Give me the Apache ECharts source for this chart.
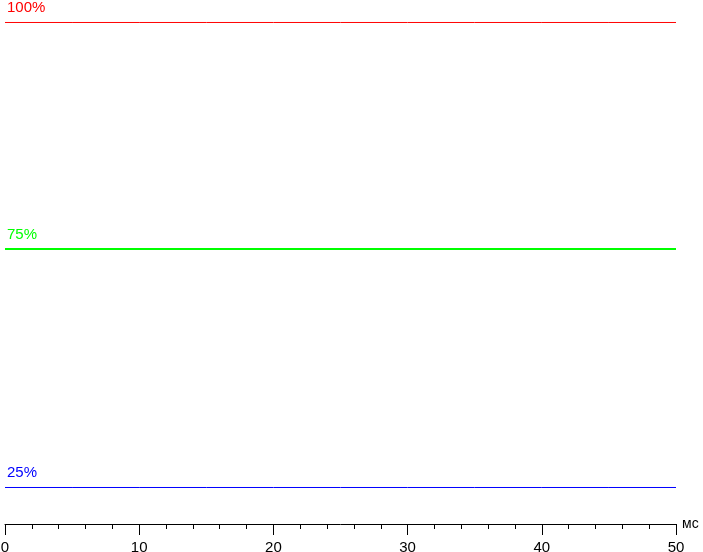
<!DOCTYPE html>
<html>
<head>
<meta charset="utf-8">
<script src="https://cdn.jsdelivr.net/npm/echarts@6/dist/echarts.min.js"></script>
<style>
html,body{margin:0;padding:0;background:#fff;}
#chart{width:703px;height:552px;}
</style>
</head>
<body>
<div id="chart"></div>
<script>
// time, ms
const times = [0, 5, 10, 15, 20, 25, 30, 35, 40, 45, 50];
// relative brightness (normalised) for each level
const level100 = [1.0, 1.0, 1.0, 1.0, 1.0, 1.0, 1.0, 1.0, 1.0, 1.0, 1.0];
const level75 = [0.5296, 0.5296, 0.5296, 0.5296, 0.5296, 0.5296, 0.5296, 0.5296, 0.5296, 0.5296, 0.5296];
const level25 = [0.0343, 0.0343, 0.0343, 0.0343, 0.0343, 0.0343, 0.0343, 0.0343, 0.0343, 0.0343, 0.0343];
const seriesNames = ['100%', '75%', '25%'];
const seriesColors = ['#ff0000', '#00ff00', '#0000ff'];
const seriesWidths = [1, 2, 1];
const xTicks = [0, 10, 20, 30, 40, 50];
const xUnit = 'мс';

const levels = [level100, level75, level25];
const chart = echarts.init(document.getElementById('chart'), null, {renderer: 'canvas'});
const font = 'Liberation Sans, Arial, sans-serif';
const narrow = 'Liberation Sans Narrow, Liberation Sans, Arial, sans-serif';

const series = levels.map((vals, i) => ({
  name: seriesNames[i],
  type: 'line',
  data: times.map((t, k) => {
    const item = {value: [t, vals[k]]};
    if (k === 0) {
      item.label = {
        show: true,
        formatter: seriesNames[i],
        position: [2, -22],
        color: seriesColors[i],
        fontFamily: font,
        fontSize: 15
      };
    }
    return item;
  }),
  symbol: 'circle',
  symbolSize: 0.01,
  showSymbol: true,
  lineStyle: {color: seriesColors[i], width: seriesWidths[i]},
  itemStyle: {color: seriesColors[i]},
  animation: false,
  silent: true
}));

chart.setOption({
  backgroundColor: '#ffffff',
  animation: false,
  grid: {left: 5, right: 27, top: 22, bottom: 28, containLabel: false, outerBoundsMode: 'none'},
  xAxis: {
    type: 'value',
    min: 0,
    max: 50,
    interval: 10,
    name: xUnit,
    nameLocation: 'end',
    nameGap: 6,
    nameTextStyle: {color: '#000', fontFamily: font, fontSize: 14, padding: [0, 0, 16, 0]},
    axisLine: {show: true, onZero: false, lineStyle: {color: '#000', width: 1}},
    axisTick: {show: true, length: 11, lineStyle: {color: '#000', width: 1}},
    minorTick: {show: true, splitNumber: 5, length: 5, lineStyle: {color: '#000', width: 1}},
    axisLabel: {
      color: '#000', fontFamily: narrow, fontSize: 15, margin: 16,
      formatter: v => (xTicks.indexOf(v) >= 0 ? String(v) : '')
    },
    splitLine: {show: false}
  },
  yAxis: {
    type: 'value',
    min: -0.0415,
    max: 1.001,
    show: false,
    splitLine: {show: false}
  },
  series: series
});
</script>
</body>
</html>
